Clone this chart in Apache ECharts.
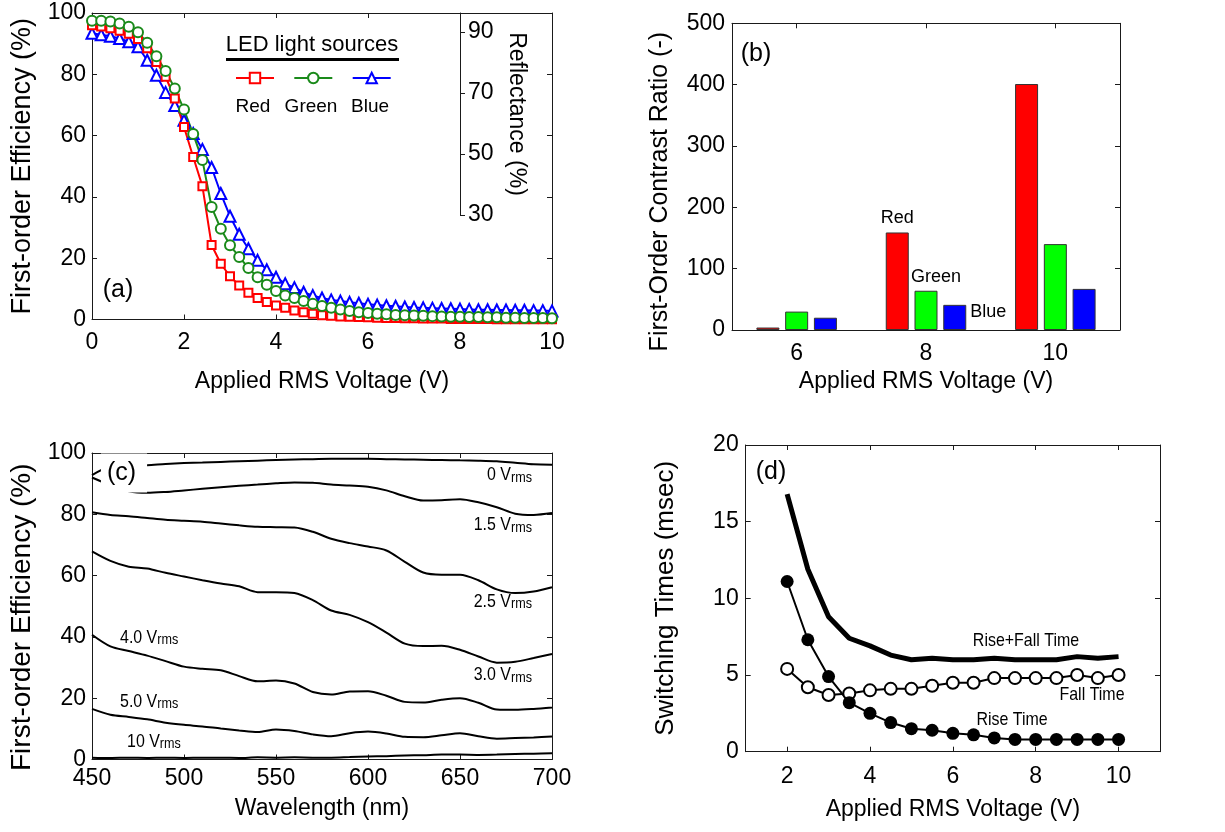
<!DOCTYPE html>
<html><head><meta charset="utf-8">
<script src="https://cdn.jsdelivr.net/npm/echarts@6/dist/echarts.min.js"></script>
<style>html,body{margin:0;padding:0;background:#fff}#c{width:1225px;height:832px}</style>
</head><body><div id="c"></div>
<script>
// ---------- Panel (a): first-order efficiency vs voltage ----------
const voltageA = [0,0.2,0.4,0.6,0.8,1.0,1.2,1.4,1.6,1.8,2.0,2.2,2.4,2.6,2.8,3.0,3.2,3.4,3.6,3.8,4.0,4.2,4.4,4.6,4.8,5.0,5.2,5.4,5.6,5.8,6.0,6.2,6.4,6.6,6.8,7.0,7.2,7.4,7.6,7.8,8.0,8.2,8.4,8.6,8.8,9.0,9.2,9.4,9.6,9.8,10];
const effRed = [96.0,95.6,95.0,94.2,93.2,91.5,88.5,84.0,79.2,72.1,62.8,53.0,43.5,24.3,18.2,14.1,11.1,8.7,7.0,5.7,4.6,3.8,2.9,2.4,1.9,1.4,1.2,1.0,0.9,0.8,0.7,0.6,0.5,0.5,0.4,0.4,0.3,0.3,0.3,0.2,0.2,0.2,0.2,0.2,0.1,0.1,0.1,0.1,0.1,0.1,0.1];
const effGreen = [97.5,97.5,97.2,96.6,95.5,93.7,90.3,85.9,81.1,75.4,68.5,60.5,52.0,36.7,29.6,24.2,20.4,16.8,13.8,11.3,9.3,7.8,7.0,6.0,5.1,4.4,3.8,3.3,2.8,2.4,2.1,1.9,1.7,1.5,1.4,1.3,1.2,1.1,1.0,0.9,0.9,0.8,0.8,0.7,0.7,0.6,0.6,0.5,0.5,0.5,0.4];
const effBlue = [93.4,92.9,92.4,91.7,90.6,89.0,84.6,79.7,74.1,69.8,65.0,60.7,55.5,49.6,41.1,33.7,27.8,23.1,19.3,16.2,13.8,11.7,10.4,8.9,7.8,7.0,6.4,6.0,5.6,5.3,5.0,4.7,4.5,4.3,4.1,3.9,3.8,3.7,3.6,3.5,3.4,3.3,3.2,3.2,3.1,3.1,3.0,3.0,2.9,2.9,2.8];
const ledNames = ['Red','Green','Blue'];

// ---------- Panel (b): contrast ratio ----------
const contrastVoltages = ['6','8','10'];
const contrastRed = [4,159,401];
const contrastGreen = [30,64,140];
const contrastBlue = [20,41,67];

// ---------- Panel (c): spectra ----------
const wavelengths = [450,460,470,480,490,500,510,520,530,540,550,560,570,580,590,600,610,620,630,640,650,660,670,680,690,700];
const spec0V  = [92.8,95.5,95.8,96.0,96.4,96.7,96.9,97.1,97.3,97.5,97.7,97.9,98.0,98.1,98.1,98.1,98.0,97.9,97.8,97.7,97.6,97.5,97.3,96.8,96.3,96.2];
const spec15V = [92.0,89.5,87.5,87.0,87.3,87.8,88.3,88.8,89.3,89.7,90.1,90.4,90.3,89.7,89.4,89.0,87.8,85.9,84.5,84.6,84.9,83.9,82.3,80.2,79.8,80.4];
const spec25V = [80.7,79.8,79.4,78.8,78.2,77.9,77.6,77.0,76.4,75.9,75.8,75.7,74.3,72.0,70.6,69.5,68.2,64.5,61.0,60.3,60.3,58.5,55.5,54.3,54.8,56.2];
const spec30V = [67.9,64.8,62.9,62.3,60.9,59.7,58.5,57.4,56.5,54.6,54.6,54.3,52.0,48.6,47.2,44.8,41.4,37.8,37.0,37.1,35.8,33.6,31.6,31.9,33.1,34.4];
const spec40V = [40.7,36.9,35.4,33.9,32.1,30.3,29.6,29.1,27.2,25.5,25.8,24.8,22.0,21.2,22.2,22.3,20.8,18.8,18.6,19.5,20.0,18.5,16.3,16.2,16.5,17.0];
const spec50V = [16.5,14.6,13.9,13.1,12.0,11.3,10.8,10.1,9.5,9.0,9.8,9.3,8.2,7.6,8.6,9.1,8.5,7.4,7.3,7.9,8.6,7.6,6.8,7.0,7.2,7.5];
const spec10V = [0.6,0.5,0.6,0.5,0.6,0.5,0.6,0.6,0.5,0.7,0.6,0.7,0.6,0.6,0.8,1.0,1.1,1.3,1.4,1.6,1.6,1.5,1.6,1.8,1.9,2.0];
const specLabels = ['0 V','1.5 V','2.5 V','3.0 V','4.0 V','5.0 V','10 V'];

// ---------- Panel (d): switching times ----------
const voltageD = [2,2.5,3,3.5,4,4.5,5,5.5,6,6.5,7,7.5,8,8.5,9,9.5,10];
const riseFallTime = [16.8,11.9,8.8,7.4,6.9,6.3,6.0,6.1,6.0,6.0,6.1,6.0,6.0,6.0,6.2,6.1,6.2];
const fallTime = [5.4,4.2,3.7,3.8,4.0,4.1,4.1,4.3,4.5,4.5,4.8,4.8,4.8,4.8,5.0,4.8,5.0];
const riseTime = [11.1,7.3,4.9,3.2,2.5,1.9,1.5,1.4,1.2,1.1,0.9,0.8,0.8,0.8,0.8,0.8,0.8];
const dTicks = [2,4,6,8,10];

// ---------- styling ----------
const FONT = '"Liberation Sans", Arial, sans-serif';
const RED = '#ff0000', GREEN = '#1a8a1a', BLUE = '#0000ff';
const LINE = {show:true, onZero:false, lineStyle:{color:'#1a1a1a', width:1}};
const TICK = {show:true, inside:true, length:5, lineStyle:{color:'#1a1a1a', width:1}};
const LBL = {color:'#000', fontFamily:FONT, fontSize:23};
const NOSPLIT = {show:false};

function pairs(xs, ys){ return xs.map((x,i)=>[x, ys[i]]); }
function mirrorAxis(a, pos){
  const m = Object.assign({}, a);
  m.position = pos; m.name = ''; m.axisLabel = Object.assign({}, a.axisLabel, {show:false});
  return m;
}

const grids = [
  {left:92, top:13, width:460, height:306.5},        // a
  {left:400, top:13, width:60, height:202},          // a reflectance axis
  {left:732, top:23.3, width:388, height:306.7},     // b
  {left:92, top:453, width:460, height:306.5},       // c
  {left:745.7, top:445, width:414.3, height:306.7}   // d
].map(g=>Object.assign({containLabel:false, outerBoundsMode:'none', show:false}, g));

const xa = {gridIndex:0, type:'value', position:'bottom', min:0, max:10, interval:2, axisLine:LINE, axisTick:TICK, splitLine:NOSPLIT,
  axisLabel:Object.assign({margin:12}, LBL), name:'Applied RMS Voltage (V)', nameLocation:'middle', nameGap:51, nameTextStyle:LBL};
const xr = {gridIndex:1, type:'value', show:false, min:0, max:1};
const xb = {gridIndex:2, type:'category', position:'bottom', data:contrastVoltages, boundaryGap:true, axisLine:LINE,
  axisTick:Object.assign({alignWithLabel:true}, TICK), splitLine:NOSPLIT,
  axisLabel:Object.assign({margin:12}, LBL), name:'Applied RMS Voltage (V)', nameLocation:'middle', nameGap:40, nameTextStyle:LBL};
const xc = {gridIndex:3, type:'value', position:'bottom', min:450, max:700, interval:50, axisLine:LINE, axisTick:TICK, splitLine:NOSPLIT,
  axisLabel:Object.assign({margin:8}, LBL), name:'Wavelength (nm)', nameLocation:'middle', nameGap:38, nameTextStyle:LBL};
const xd = {gridIndex:4, type:'value', position:'bottom', min:1, max:11, axisLine:LINE,
  axisTick:Object.assign({customValues:dTicks}, TICK), splitLine:NOSPLIT,
  axisLabel:Object.assign({margin:13, customValues:dTicks}, LBL), name:'Applied RMS Voltage (V)', nameLocation:'middle', nameGap:46, nameTextStyle:LBL};

const ya = {gridIndex:0, type:'value', position:'left', min:0, max:100, interval:20, axisLine:LINE, axisTick:TICK, splitLine:NOSPLIT,
  axisLabel:Object.assign({margin:6}, LBL), name:'First-order Efficiency (%)', nameLocation:'middle', nameGap:56,
  nameTextStyle:Object.assign({}, LBL, {fontSize:27})};
const yr = {gridIndex:1, type:'value', position:'right', min:30, max:96.2, interval:20, axisLine:LINE,
  axisTick:{show:true, inside:false, length:5, lineStyle:{color:'#1a1a1a'}}, splitLine:NOSPLIT,
  axisLabel:Object.assign({margin:8, showMaxLabel:false}, LBL), name:'Reflectance (%)', nameLocation:'middle', nameRotate:-90, nameGap:45,
  nameTextStyle:Object.assign({}, LBL, {fontSize:23})};
const yb = {gridIndex:2, type:'value', position:'left', min:0, max:500, interval:100, axisLine:LINE, axisTick:TICK, splitLine:NOSPLIT,
  axisLabel:Object.assign({margin:7}, LBL), name:'First-Order Contrast Ratio (-)', nameLocation:'middle', nameGap:59,
  nameTextStyle:Object.assign({}, LBL, {fontSize:25, padding:[0,30,0,0]})};
const yc = {gridIndex:3, type:'value', position:'left', min:0, max:100, interval:20, axisLine:LINE, axisTick:TICK, splitLine:NOSPLIT,
  axisLabel:Object.assign({margin:6}, LBL), name:'First-order Efficiency (%)', nameLocation:'middle', nameGap:56,
  nameTextStyle:Object.assign({}, LBL, {fontSize:28, padding:[0,22,0,0]})};
const yd = {gridIndex:4, type:'value', position:'left', min:0, max:20, interval:5, axisLine:LINE, axisTick:TICK, splitLine:NOSPLIT,
  axisLabel:Object.assign({margin:7}, LBL), name:'Switching Times (msec)', nameLocation:'middle', nameGap:67,
  nameTextStyle:Object.assign({}, LBL, {fontSize:26})};

const xAxes = [xa, mirrorAxis(xa,'top'), xr, xb, mirrorAxis(xb,'top'), xc, mirrorAxis(xc,'top'), xd, mirrorAxis(xd,'top')];
const yAxes = [ya, mirrorAxis(ya,'right'), yr, yb, mirrorAxis(yb,'right'), yc, mirrorAxis(yc,'right'), yd, mirrorAxis(yd,'right')];

function effSeries(name, ys, color, symbol, size){
  return {name, type:'line', xAxisIndex:0, yAxisIndex:0, data:pairs(voltageA, ys), symbol, symbolSize:size,
    lineStyle:{color, width:2}, itemStyle:{color, borderColor:color, borderWidth:2}, emphasis:{disabled:true}, z:3};
}
const barLabel = {fontFamily:FONT, fontSize:18, color:'#000'};
function barSeries(name, ys, color, labelText, labelPos){
  return {name, type:'bar', xAxisIndex:3, yAxisIndex:3, barWidth:23, barGap:'25%',
    itemStyle:{color, borderColor:'#333', borderWidth:1},
    data: ys.map((v,i)=> i===1 ? {value:v, label:Object.assign({show:true, formatter:labelText}, barLabel, labelPos)} : v),
    emphasis:{disabled:true}};
}
function specSeries(name, ys){
  return {name, type:'line', xAxisIndex:5, yAxisIndex:5, data:pairs(wavelengths, ys), showSymbol:false, smooth:0.3,
    lineStyle:{color:'#000', width:2}, emphasis:{disabled:true}};
}

const series = [
  effSeries('Blue', effBlue, BLUE, 'emptyTriangle', 11),
  effSeries('Red', effRed, RED, 'emptyRect', 8),
  effSeries('Green', effGreen, GREEN, 'emptyCircle', 10),
  {name:'refl', type:'line', xAxisIndex:2, yAxisIndex:2, data:[], silent:true},
  barSeries('Red bar', contrastRed, '#ff0000', 'Red', {position:'top', distance:5}),
  barSeries('Green bar', contrastGreen, '#00ff00', 'Green', {position:'top', distance:5, offset:[10,0]}),
  barSeries('Blue bar', contrastBlue, '#0000ff', 'Blue', {position:'right', distance:4, offset:[0,-5]}),
  specSeries(specLabels[0], spec0V), specSeries(specLabels[1], spec15V), specSeries(specLabels[2], spec25V),
  specSeries(specLabels[3], spec30V), specSeries(specLabels[4], spec40V), specSeries(specLabels[5], spec50V),
  specSeries(specLabels[6], spec10V),
  {name:'Rise+Fall Time', type:'line', xAxisIndex:7, yAxisIndex:7, data:pairs(voltageD, riseFallTime), showSymbol:false,
    lineStyle:{color:'#000', width:5}, emphasis:{disabled:true}},
  {name:'Fall Time', type:'line', xAxisIndex:7, yAxisIndex:7, data:pairs(voltageD, fallTime), symbol:'emptyCircle', symbolSize:12,
    lineStyle:{color:'#000', width:2}, itemStyle:{color:'#000', borderColor:'#000', borderWidth:2}, emphasis:{disabled:true}},
  {name:'Rise Time', type:'line', xAxisIndex:7, yAxisIndex:7, data:pairs(voltageD, riseTime), symbol:'circle', symbolSize:13,
    lineStyle:{color:'#000', width:2}, itemStyle:{color:'#000'}, emphasis:{disabled:true}}
];

const legendLefts = [235, 293.3, 351.7];
const legends = ledNames.map((n,i)=>({data:[n], left:legendLefts[i], top:71.5, padding:0, itemWidth:38, itemHeight:13,
  selectedMode:false, formatter:()=>'', textStyle:{fontSize:1}}));

function txt(x, y, text, size, extra, sx){
  return {type:'text', x, y, z:100, scaleX:sx||1, style:Object.assign({text, fill:'#000', font:size+'px '+FONT,
    align:'center', verticalAlign:'middle', textAlign:'center', textVerticalAlign:'middle'}, extra||{})};
}
const rich = {n:{fontSize:19, fontFamily:FONT, fill:'#000', padding:[0,0,5,0]}, s:{fontSize:15, fontFamily:FONT, fill:'#000'}};
function vrms(x, y, label, align){
  return {type:'text', x, y, z:100, scaleX:0.84, style:{text:'{n|'+label+'}{s|rms}', rich, align, textAlign:align,
    verticalAlign:'middle', textVerticalAlign:'middle'}};
}

const graphics = [
  txt(118, 290, '(a)', 25),
  txt(312, 45, 'LED light sources', 22),
  {type:'line', z:100, shape:{x1:226, y1:59.5, x2:399, y2:59.5}, style:{stroke:'#000', lineWidth:3}},
  txt(253, 107, ledNames[0], 19),
  txt(311, 107, ledNames[1], 19),
  txt(370, 107, ledNames[2], 19),
  txt(756, 54, '(b)', 25),
  txt(124, 473, '(c)', 25, {backgroundColor:'#fff', padding:[6,11,8,6]}),
  vrms(532, 477.5, specLabels[0], 'right'),
  vrms(532, 527.5, specLabels[1], 'right'),
  vrms(532, 604, specLabels[2], 'right'),
  vrms(532, 677.5, specLabels[3], 'right'),
  vrms(120, 640, specLabels[4], 'left'),
  vrms(120, 704, specLabels[5], 'left'),
  vrms(127, 744, specLabels[6], 'left'),
  txt(771, 472, '(d)', 25),
  txt(1026, 641, 'Rise+Fall Time', 19, null, 0.84),
  txt(1092, 695, 'Fall Time', 19, null, 0.84),
  txt(1012, 720, 'Rise Time', 19, null, 0.84)
];

const chart = echarts.init(document.getElementById('c'), null, {renderer:'canvas', width:1225, height:832});
chart.setOption({
  animation:false,
  backgroundColor:'#fff',
  textStyle:{fontFamily:FONT},
  grid:grids, xAxis:xAxes, yAxis:yAxes, series, legend:legends, graphic:{elements:graphics}
});
</script></body></html>
